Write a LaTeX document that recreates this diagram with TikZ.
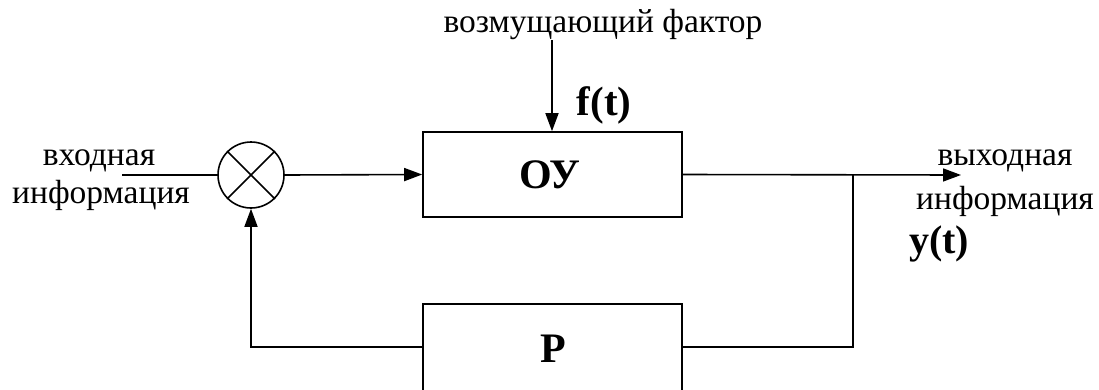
\documentclass[tikz,border=0pt]{standalone}
\usepackage{fontspec}
\setmainfont{Liberation Serif}
\usetikzlibrary{arrows.meta}
\begin{document}
\begin{tikzpicture}[x=1pt,y=-1pt,
  line/.style={line width=1.6pt},
  arr/.style={line, -{Triangle[length=18pt,width=13pt]}},
  blk/.style={draw, line width=1.6pt, minimum width=259pt, inner sep=0pt},
  txt/.style={font=\fontsize{33.5}{38}\selectfont, inner sep=0pt, anchor=base},
  btxt/.style={font=\fontsize{42}{46}\selectfont\bfseries, inner sep=0pt, anchor=base}]
\useasboundingbox (0,0) rectangle (1099,389);
% blocks
\node[blk, minimum height=85pt] (ou) at (552.5,174.5) {};
\node[btxt] (oul) at (550,188) {ОУ};
\node[blk, minimum height=87pt] (p) at (552.5,347.5) {};
\node[btxt] (pl) at (553,362) {Р};
% summing junction
\node[draw, circle, line width=1.6pt, minimum size=66pt, inner sep=0pt] (s) at (251,175) {};
\draw[line] (s.north west) -- (s.south east);
\draw[line] (s.north east) -- (s.south west);
% coordinates
\coordinate (in) at (122,175);
\coordinate (dist) at (552,40);
\coordinate (out) at (961,175);
\coordinate (br) at (853,175);
\coordinate (brd) at (853,347);
\coordinate (fb) at (251,347);
% connectors
\draw[line] (in) -- (s.west);
\draw[arr] (s.east) -- (ou.west);
\draw[arr] (dist) -- (dist |- ou.north);
\draw[arr] (ou.east) -- (out);
\draw[line] (br) -- (brd) -- (p.east |- brd);
\draw[arr] (p.west |- fb) -- (fb) -- (s.south);
% labels
\node[txt] (inl1) at (99,165) {входная};
\node[txt] (inl2) at (101,203) {информация};
\node[txt] (outl1) at (1005,165) {выходная};
\node[txt] (outl2) at (1005,209) {информация};
\node[txt] (dl) at (603,32) {возмущающий фактор};
\node[btxt, font=\fontsize{41}{44}\selectfont\bfseries] (ft) at (604,115) {f(t)};
\node[btxt, font=\fontsize{40}{44}\selectfont\bfseries] (yt) at (939,253) {y(t)};
\end{tikzpicture}
\end{document}
